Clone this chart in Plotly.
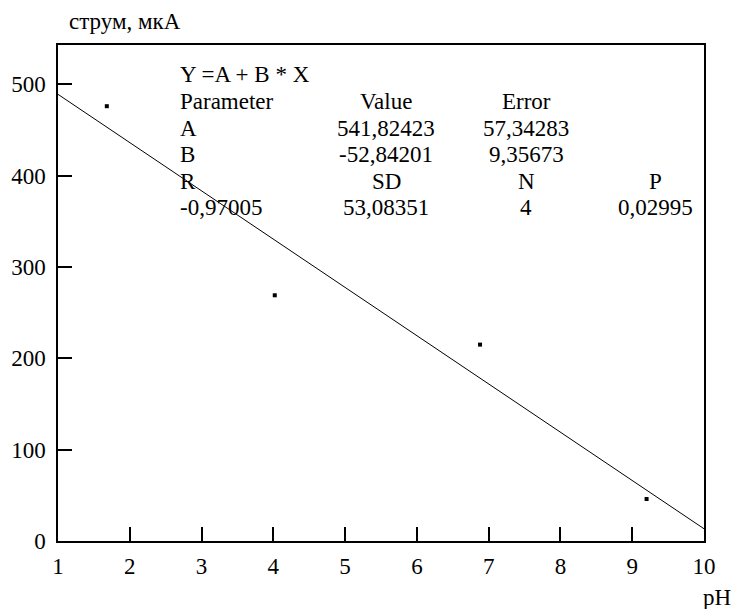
import plotly.graph_objects as go

# Data
ph = [1.68, 4.02, 6.88, 9.2]
current = [476, 269, 215, 46]

fit_x = [1, 10]
fit_y = [489.0, 13.4]

x_ticks = [1, 2, 3, 4, 5, 6, 7, 8, 9, 10]
y_ticks = [0, 100, 200, 300, 400, 500]

table_rows = [
    ["Y =A + B * X", "", "", ""],
    ["Parameter", "Value", "Error", ""],
    ["A", "541,82423", "57,34283", ""],
    ["B", "-52,84201", "9,35673", ""],
    ["R", "SD", "N", "P"],
    ["-0,97005", "53,08351", "4", "0,02995"],
]

FONT = "Liberation Serif"
FS = 23
W, H = 737, 609
L, R, T, B = 57.5, 704, 45, 541

def px(x):
    return (x - L) / (R - L)

def py(y):
    return (B - y) / (B - T)

fig = go.Figure()
fig.add_trace(go.Scatter(x=fit_x, y=fit_y, mode="lines",
                         line=dict(color="black", width=1), showlegend=False,
                         hoverinfo="skip"))
fig.add_trace(go.Scatter(x=ph, y=current, mode="markers",
                         marker=dict(symbol="square", size=4, color="black",
                                     line=dict(width=0)),
                         showlegend=False))

annotations = []
row_y = [75, 101.5, 128, 154.5, 181, 207.5]
col_x = [178, 386, 526, 655]
col_anchor = ["left", "center", "center", "center"]
for r, row in enumerate(table_rows):
    for c, txt in enumerate(row):
        if not txt:
            continue
        annotations.append(dict(
            x=px(col_x[c]), y=py(row_y[r]), xref="paper", yref="paper",
            text=txt, showarrow=False, xanchor=col_anchor[c], yanchor="middle",
            font=dict(family=FONT, size=FS, color="black")))

annotations.append(dict(x=px(67), y=py(22), xref="paper", yref="paper",
                        text="струм, мкА", showarrow=False, xanchor="left",
                        yanchor="middle",
                        font=dict(family=FONT, size=FS, color="black")))
annotations.append(dict(x=px(717), y=py(597), xref="paper", yref="paper",
                        text="pH", showarrow=False, xanchor="center",
                        yanchor="middle",
                        font=dict(family=FONT, size=FS, color="black")))

fig.update_layout(
    width=W, height=H,
    margin=dict(l=L, r=W - R, t=T, b=H - B, pad=0),
    paper_bgcolor="white", plot_bgcolor="white",
    font=dict(family=FONT, size=FS, color="black"),
    annotations=annotations,
    xaxis=dict(range=[1, 10], tickvals=x_ticks, ticktext=[str(v) for v in x_ticks],
               ticks="inside", ticklen=14, tickwidth=1.5, tickcolor="black",
               showline=True, linecolor="black", linewidth=1.5, mirror=True,
               showgrid=False, zeroline=False, ticklabelstandoff=4),
    yaxis=dict(range=[0, 543], tickvals=y_ticks, ticktext=[str(v) for v in y_ticks],
               ticks="inside", ticklen=14, tickwidth=1.5, tickcolor="black",
               showline=True, linecolor="black", linewidth=1.5, mirror=True,
               showgrid=False, zeroline=False, ticklabelstandoff=6),
)

fig.write_html("out.html", config={"displayModeBar": False},
               post_script="document.body.style.margin='0';document.body.style.padding='0';")
